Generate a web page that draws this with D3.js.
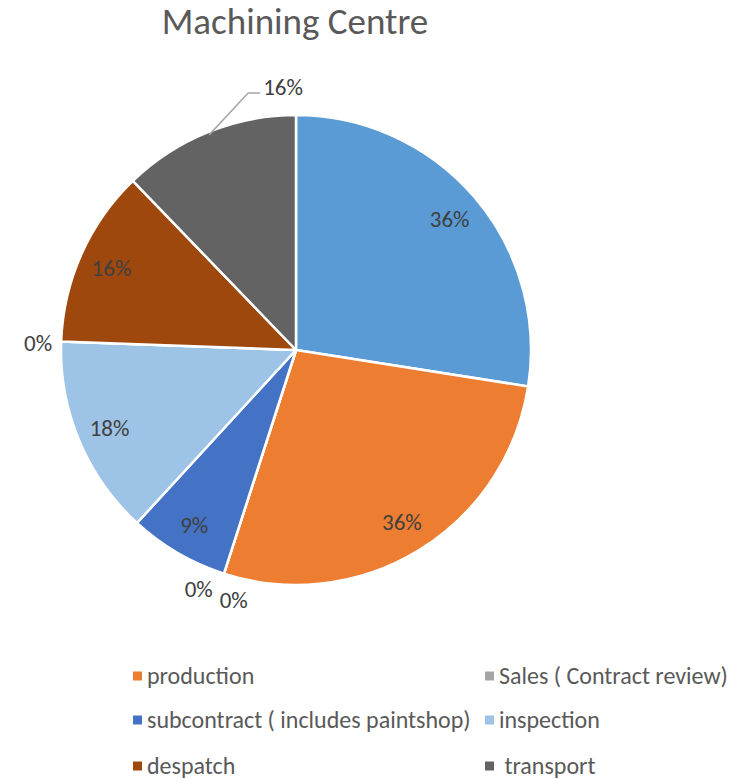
<!DOCTYPE html>
<html>
<head>
<meta charset="utf-8">
<script src="https://cdn.jsdelivr.net/npm/d3@7"></script>
<style>
  body { margin: 0; background: #fff; }
  svg text { font-family: Calibri, Carlito, Lato, sans-serif; }
</style>
</head>
<body>
<svg id="chart" width="741" height="779"></svg>
<script>
// slices, clockwise from 12 o'clock (values are the shown labels, as fractions)
var categories = ['', 'production', 'Sales ( Contract review)', '', 'subcontract ( includes paintshop)', 'inspection', '', 'despatch', ' transport'];
var values = [0.36, 0.36, 0, 0, 0.09, 0.18, 0, 0.16, 0.16];
var colors = ['#5B9BD5', '#ED7D31', '#A5A5A5', '#FFC000', '#4472C4', '#9DC3E6', '#70AD47', '#9E480E', '#636363'];
// which series are in the legend (two columns)
var legendItems = [1, 2, 4, 5, 7, 8];

var svg = d3.select('#chart'),
    cx = 296, cy = 350, R = 235;

svg.append('text')
  .attr('x', 295).attr('y', 34)
  .attr('text-anchor', 'middle')
  .style('font-size', '37px')
  .style('fill', '#595959')
  .text('Machining Centre');

var data = values.map(function(v, i) { return {name: categories[i], value: v, color: colors[i], i: i}; });

var pie = d3.pie().sort(null).value(function(d) { return d.value; });
var arcs = pie(data);
var arc = d3.arc().innerRadius(0).outerRadius(R);
var labelArc = d3.arc().innerRadius(R * 0.86).outerRadius(R * 0.86);

var g = svg.append('g').attr('transform', 'translate(' + cx + ',' + cy + ')');

g.selectAll('path.slice')
  .data(arcs)
  .enter().append('path')
    .attr('class', 'slice')
    .attr('d', arc)
    .attr('fill', function(d) { return d.data.color; })
    .attr('stroke', '#fff')
    .attr('stroke-width', 2.5)
    .attr('stroke-linejoin', 'round');

var fmt = d3.format('.0%');

// inside labels (all but the last, which sits outside with a leader)
var inside = arcs.filter(function(d, i) { return d.data.value > 0 && i < arcs.length - 1; });
g.selectAll('text.in')
  .data(inside)
  .enter().append('text')
    .attr('class', 'in')
    .attr('transform', function(d) { return 'translate(' + labelArc.centroid(d) + ')'; })
    .attr('text-anchor', 'middle')
    .attr('dy', '0.35em')
    .style('font-size', '23px')
    .style('fill', '#404040')
    .text(function(d) { return fmt(d.data.value); });

// zero slices: labels just outside the rim, nudged apart
var zeroOffsets = {2: 4.3, 3: -3.9, 6: -0.4};
var zeros = arcs.filter(function(d) { return d.data.value === 0; });
g.selectAll('text.zero')
  .data(zeros)
  .enter().append('text')
    .attr('class', 'zero')
    .attr('x', function(d) { var a = d.startAngle + zeroOffsets[d.data.i] * Math.PI / 180; return Math.sin(a) * (R + 23); })
    .attr('y', function(d) { var a = d.startAngle + zeroOffsets[d.data.i] * Math.PI / 180; return -Math.cos(a) * (R + 23); })
    .attr('text-anchor', 'middle')
    .attr('dy', '0.35em')
    .style('font-size', '23px')
    .style('fill', '#404040')
    .text(function(d) { return fmt(d.data.value); });

// last slice (transport): outside label with leader line
var last = arcs[arcs.length - 1];
var mid = (last.startAngle + last.endAngle) / 2;
var p0 = [Math.sin(mid) * (R - 3), -Math.cos(mid) * (R - 3)];
var p1 = [p0[0] + 39, -R - 22];
var p2 = [p1[0] + 12, p1[1]];
g.append('polyline')
  .attr('points', [p0, p1, p2].map(function(p) { return p.join(','); }).join(' '))
  .attr('fill', 'none')
  .attr('stroke', '#A6A6A6')
  .attr('stroke-width', 1.5);
g.append('text')
  .attr('x', p2[0] + 3).attr('y', p2[1] - 6)
  .attr('dy', '0.35em')
  .style('font-size', '23px')
  .style('fill', '#404040')
  .text(fmt(last.data.value));

// legend
var legX = [133, 485], legY = [676, 720, 766];
var leg = svg.selectAll('g.leg')
  .data(legendItems.map(function(i) { return data[i]; }))
  .enter().append('g')
    .attr('class', 'leg')
    .attr('transform', function(d, k) { return 'translate(' + legX[k % 2] + ',' + legY[Math.floor(k / 2)] + ')'; });
leg.append('rect')
  .attr('x', 0).attr('y', -4.5)
  .attr('width', 9).attr('height', 9)
  .attr('fill', function(d) { return d.color; });
leg.append('text')
  .attr('x', 14)
  .attr('dy', '0.35em')
  .style('font-size', '24px')
  .style('fill', '#595959')
  .style('white-space', 'pre')
  .text(function(d) { return d.name; });
</script>
</body>
</html>
